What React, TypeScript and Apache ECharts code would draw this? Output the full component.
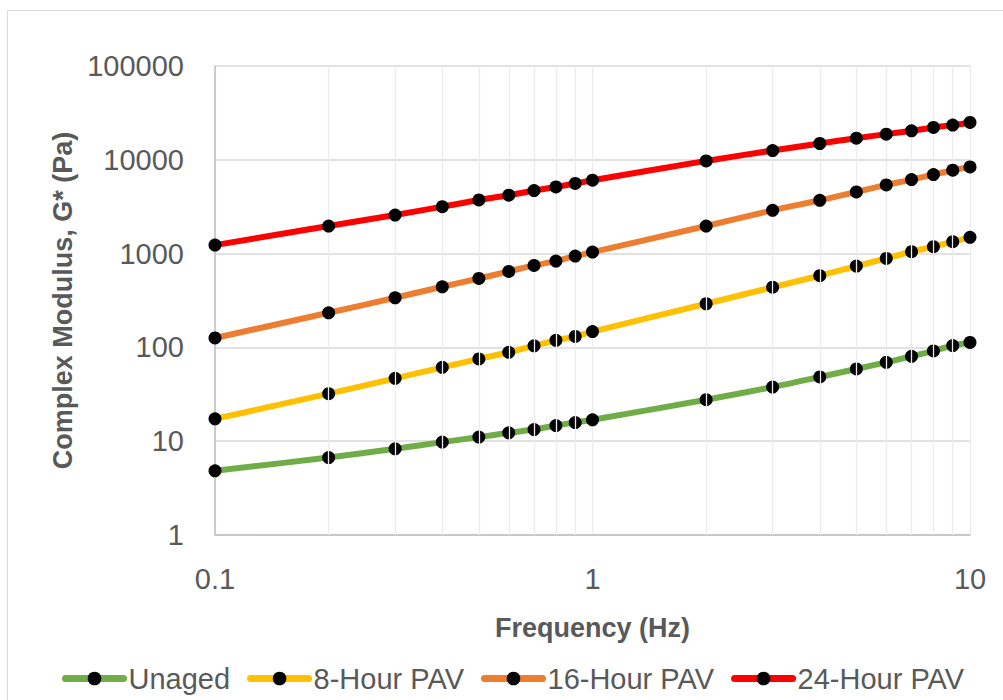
import React, { useEffect, useRef } from "react";
import * as echarts from "echarts";

const frequencies = [0.1, 0.2, 0.3, 0.4, 0.5, 0.6, 0.7, 0.8, 0.9, 1, 2, 3, 4, 5, 6, 7, 8, 9, 10];
const unaged = [4.83, 6.7, 8.29, 9.78, 11.06, 12.3, 13.3, 14.7, 15.8, 16.9, 27.7, 37.8, 48.4, 58.9, 69.3, 80.4, 91.8, 104.5, 113];
const pav8 = [17.3, 32.1, 46.8, 61.3, 75.4, 88.7, 104, 119, 131, 147.6, 292, 438, 581, 736, 889, 1048, 1186, 1340, 1490];
const pav16 = [126, 234, 338, 443, 543, 646, 748, 832, 941, 1038, 1967, 2896, 3700, 4540, 5395, 6155, 6965, 7740, 8400];
const pav24 = [1232, 1967, 2578, 3165, 3730, 4190, 4700, 5140, 5590, 6060, 9730, 12560, 14920, 17000, 18780, 20380, 22140, 23430, 25030];
const minorFrequencies = [0.2, 0.3, 0.4, 0.5, 0.6, 0.7, 0.8, 0.9, 2, 3, 4, 5, 6, 7, 8, 9];

const seriesNames = ["Unaged", "8-Hour PAV", "16-Hour PAV", "24-Hour PAV"];
const seriesValues = [unaged, pav8, pav16, pav24];
const seriesColors = ["#70AD47", "#FFC000", "#ED7D31", "#FF0000"];

const FONT = "'Liberation Sans', Arial, sans-serif";
const TEXT = "#595959";

export default function App() {
  const ref = useRef<HTMLDivElement>(null);

  useEffect(() => {
    if (!ref.current) return;
    const chart = echarts.init(ref.current, null, { renderer: "svg" });
    const fmt = (v: number) => String(+Number(v).toPrecision(6));

    const dataSeries = seriesNames.map((name, i) => ({
      name,
      type: "line",
      z: 3 + i,
      smooth: 0.3,
      data: frequencies.map((f, j) => [f, seriesValues[i][j]]),
      symbol: "circle",
      symbolSize: 13,
      showSymbol: true,
      itemStyle: { color: "#000000" },
      lineStyle: { color: seriesColors[i], width: 6 },
      emphasis: { disabled: true },
    }));

    chart.setOption({
      animation: false,
      textStyle: { fontFamily: FONT },
      graphic: [
        {
          type: "rect",
          shape: { x: 7.5, y: 10.5, width: 1200, height: 900 },
          style: { fill: "none", stroke: "#d9d9d9", lineWidth: 1 },
          silent: true,
          z: -10,
        },
      ],
      grid: { left: 215, right: 33, top: 66, bottom: 165, containLabel: false },
      legend: {
        data: seriesNames.map((n, i) => ({
          name: n,
          itemStyle: { color: "#000000" },
          lineStyle: { color: seriesColors[i], width: 7, cap: "round" },
        })),
        left: 57,
        top: 659,
        itemWidth: 58,
        itemHeight: 17,
        itemGap: 17,
        textStyle: { fontFamily: FONT, fontSize: 29, color: TEXT },
      },
      xAxis: {
        type: "log",
        logBase: 10,
        min: 0.1,
        max: 10,
        name: "Frequency (Hz)",
        nameLocation: "middle",
        nameGap: 79,
        nameTextStyle: { fontFamily: FONT, fontSize: 27, fontWeight: "bold", color: TEXT },
        axisLine: { show: true, lineStyle: { color: "#bfbfbf", width: 1.5 } },
        axisTick: { show: false },
        axisLabel: { fontFamily: FONT, fontSize: 29, color: TEXT, margin: 29, formatter: fmt },
        splitLine: { show: true, lineStyle: { color: "#ececec", width: 1.3 } },
        minorTick: { show: false },
        minorSplitLine: { show: false },
      },
      yAxis: {
        type: "log",
        logBase: 10,
        min: 1,
        max: 100000,
        splitNumber: 5,
        name: "Complex Modulus, G* (Pa)",
        nameLocation: "middle",
        nameGap: 131,
        nameRotate: 90,
        nameTextStyle: { fontFamily: FONT, fontSize: 27, fontWeight: "bold", color: TEXT },
        axisLine: { show: true, lineStyle: { color: "#bfbfbf", width: 1.5 } },
        axisTick: { show: false },
        axisLabel: { fontFamily: FONT, fontSize: 29, color: TEXT, margin: 31, formatter: fmt },
        splitLine: { show: true, lineStyle: { color: "#d9d9d9", width: 1.5 } },
      },
      series: [
        {
          name: "minor-grid",
          type: "line",
          z: 1,
          data: [[1, 10]],
          symbol: "none",
          lineStyle: { opacity: 0 },
          silent: true,
          markLine: {
            silent: true,
            symbol: "none",
            label: { show: false },
            lineStyle: { color: "#ececec", type: "solid", width: 1.3 },
            data: minorFrequencies.map((f) => ({ xAxis: f })),
          },
        },
        ...dataSeries,
      ],
    });

    return () => chart.dispose();
  }, []);

  return (
    <div
      ref={ref}
      style={{ position: "absolute", left: 0, top: 0, width: 1003, height: 700, background: "#ffffff" }}
    />
  );
}
